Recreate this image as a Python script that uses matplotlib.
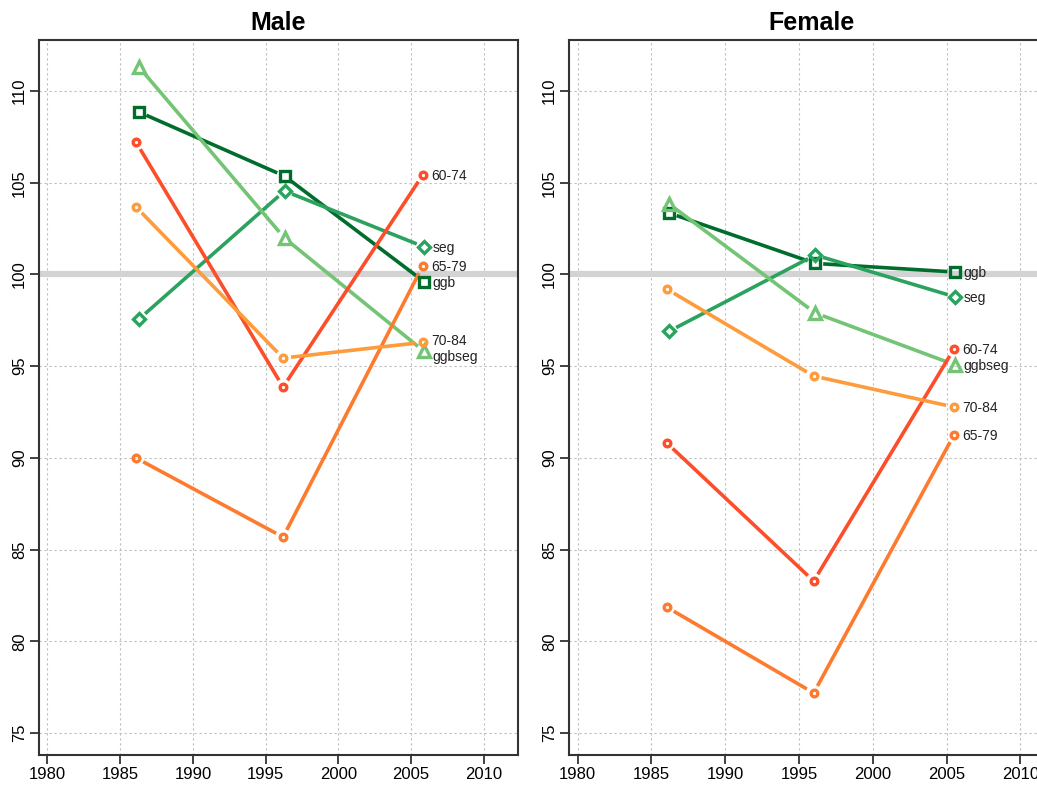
import numpy as np
import matplotlib
matplotlib.use('Agg')
import matplotlib.pyplot as plt

plt.rcParams['font.family'] = ['Liberation Sans', 'DejaVu Sans']

# series names and styling
groups = ['ggb', 'seg', 'ggbseg', '60-74', '65-79', '70-84']
colors = {'ggb': '#006d2c', 'seg': '#2ca25f', 'ggbseg': '#74c476',
          '60-74': '#fc4e2a', '65-79': '#fd7b2e', '70-84': '#fe9b3c'}
markers = {'ggb': 's', 'seg': 'D', 'ggbseg': '^',
           '60-74': 'o', '65-79': 'o', '70-84': 'o'}
msizes = {'ggb': 6.5, 'seg': 6.5, 'ggbseg': 8.5,
          '60-74': 4.8, '65-79': 4.8, '70-84': 4.8}

# x positions (survey years, slightly dodged)
male_x_green = [1986.3, 1996.3, 2005.9]
male_x_orange = [1986.1, 1996.2, 2005.8]
female_x_green = [1986.2, 1996.1, 2005.6]
female_x_orange = [1986.05, 1996.0, 2005.5]

# values
male_ggb = [108.85, 105.36, 99.6]
male_seg = [97.57, 104.55, 101.5]
male_ggbseg = [111.3, 101.98, 95.8]
male_6074 = [107.2, 93.86, 105.42]
male_6579 = [89.99, 85.68, 100.46]
male_7084 = [103.67, 95.44, 96.3]

female_ggb = [103.35, 100.6, 100.13]
female_seg = [96.9, 101.06, 98.77]
female_ggbseg = [103.84, 97.9, 95.06]
female_6074 = [90.81, 83.28, 95.93]
female_6579 = [81.86, 77.18, 91.24]
female_7084 = [99.2, 94.46, 92.77]

male = {'ggb': male_ggb, 'seg': male_seg, 'ggbseg': male_ggbseg,
        '60-74': male_6074, '65-79': male_6579, '70-84': male_7084}
female = {'ggb': female_ggb, 'seg': female_seg, 'ggbseg': female_ggbseg,
          '60-74': female_6074, '65-79': female_6579, '70-84': female_7084}

xticks = [1980, 1985, 1990, 1995, 2000, 2005, 2010]
yticks = [75, 80, 85, 90, 95, 100, 105, 110]
xlim = (1979.42, 2012.35)
ylim = (73.8, 112.78)

fig = plt.figure(figsize=(10.37, 7.85), dpi=100)
W, H = 1037, 785
ax_m = fig.add_axes([39 / W, 30 / H, 479 / W, 715 / H])
ax_f = fig.add_axes([569 / W, 30 / H, 486 / W, 715 / H])


def type_b(ax, x, y, color, gap=8):
    # lines with gaps around the points, like R's type="b"
    pts = ax.transData.transform(np.column_stack([x, y]))
    for p0, p1 in zip(pts[:-1], pts[1:]):
        d = p1 - p0
        n = np.hypot(*d)
        if n <= 2 * gap:
            continue
        u = d / n
        a = ax.transData.inverted().transform([p0 + u * gap, p1 - u * gap])
        ax.plot(a[:, 0], a[:, 1], color=color, lw=2.6,
                solid_capstyle='butt', zorder=3)


# small vertical nudges (points) for labels that would collide
nudge_m = {'70-84': 2, 'ggbseg': -3}
nudge_f = {}

for ax, data, xg, xo, title, nudge in [
        (ax_m, male, male_x_green, male_x_orange, 'Male', nudge_m),
        (ax_f, female, female_x_green, female_x_orange, 'Female', nudge_f)]:
    ax.set_xlim(*xlim)
    ax.set_ylim(*ylim)
    ax.set_xticks(xticks)
    ax.set_yticks(yticks)
    ax.set_yticklabels([str(v) for v in yticks], rotation=90, va='center')
    ax.tick_params(axis='both', direction='out', length=6.5, width=1.3,
                   color='#333333', labelsize=12, pad=2)
    for s in ax.spines.values():
        s.set_color('#333333')
        s.set_linewidth(1.5)
    ax.grid(True, color='#bdbdbd', linestyle=(0, (2, 2.5)), linewidth=0.8)
    ax.set_axisbelow(True)
    ax.axhline(100, color='#d3d3d3', lw=4.5, zorder=1)
    ax.set_title(title, fontsize=18, fontweight='bold', pad=7)

    for g in groups:
        x = xg if g in ('ggb', 'seg', 'ggbseg') else xo
        y = data[g]
        type_b(ax, x, y, colors[g])
        ax.plot(x, y, linestyle='none', marker=markers[g], ms=msizes[g],
                mfc='none', mec=colors[g], mew=2.4, zorder=4)
        ax.annotate(g, (x[-1], y[-1]), xytext=(6, -1 + nudge.get(g, 0)),
                    textcoords='offset points', fontsize=10,
                    va='center', ha='left', color='#222222', zorder=5)

fig.savefig('out.png', dpi=100)
